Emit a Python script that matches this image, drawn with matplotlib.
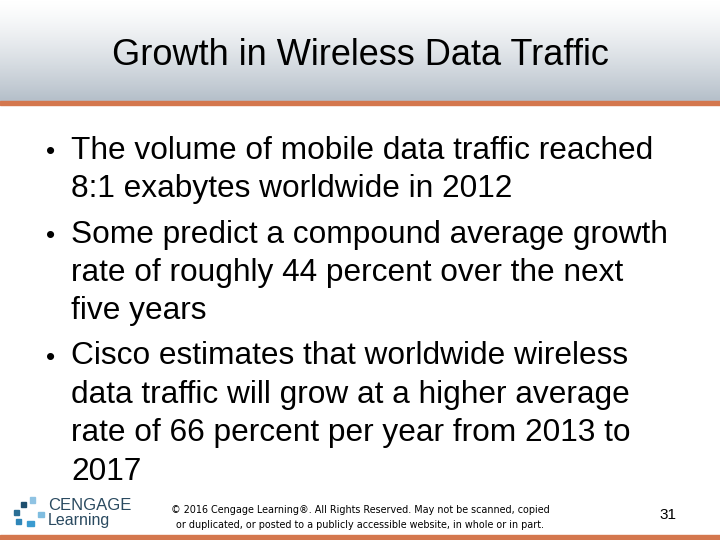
import numpy as np
import matplotlib.pyplot as plt
from matplotlib.patches import Rectangle

title = 'Growth in Wireless Data Traffic'
bullets = [
    ['The volume of mobile data traffic reached', '8:1 exabytes worldwide in 2012'],
    ['Some predict a compound average growth', 'rate of roughly 44 percent over the next', 'five years'],
    ['Cisco estimates that worldwide wireless', 'data traffic will grow at a higher average',
     'rate of 66 percent per year from 2013 to', '2017'],
]
footer = ['\u00a9 2016 Cengage Learning\u00ae. All Rights Reserved. May not be scanned, copied',
          'or duplicated, or posted to a publicly accessible website, in whole or in part.']
page = '31'

plt.rcParams['font.family'] = ['Liberation Sans', 'DejaVu Sans']
fig = plt.figure(figsize=(7.2, 5.4), dpi=100)
ax = fig.add_axes([0, 0, 1, 1])
ax.set_xlim(0, 720)
ax.set_ylim(540, 0)
ax.axis('off')

# header band: white fading to grey-blue, orange rule underneath
grad = np.linspace(0, 1, 100).reshape(-1, 1)
top = np.array([1.0, 1.0, 1.0])
bot = np.array([0.71, 0.75, 0.79])
img = top + (bot - top) * grad[..., None] ** 1.3
ax.imshow(img, extent=[0, 720, 101, 0], aspect='auto', zorder=0)
ax.add_patch(Rectangle((0, 101), 720, 4, color='#d4774e', zorder=1))
ax.add_patch(Rectangle((0, 535), 720, 5, color='#d4774e', zorder=1))

ax.text(360, 65, title, fontsize=26, ha='center', va='baseline', color='black')

# bullet text, baselines in px
y = 159
for item in bullets:
    ax.text(46, y - 7, '\u2022', fontsize=19, ha='left', va='center')
    for line in item:
        ax.text(71, y, line, fontsize=22.8, ha='left', va='baseline')
        y += 38.5
    y += 6.5

# logo
pieces = [(30, 497, 5, 6, '#8fc3e3'), (21, 502, 5, 5, '#1f4f6e'), (14, 510, 5, 5, '#2b6f95'),
          (16, 519, 5, 5, '#2f86b8'), (27, 521, 7, 5, '#3a9bd0'), (38, 512, 6, 5, '#7fbde0')]
for sx, sy, w, h, c in pieces:
    ax.add_patch(Rectangle((sx, sy), w, h, color=c, zorder=2))
ax.text(48, 510, 'CENGAGE', fontsize=12, color='#2a4a60', ha='left', va='baseline')
ax.text(48, 525, 'Learning', fontsize=11.5, color='#2a4a60', ha='left', va='baseline')

ax.text(360, 510, footer[0], fontsize=6.9, ha='center', va='center', family='DejaVu Sans')
ax.text(360, 525, footer[1], fontsize=6.9, ha='center', va='center', family='DejaVu Sans')
ax.text(668, 515, page, fontsize=11, ha='center', va='center')

fig.savefig('out.png', dpi=100)
